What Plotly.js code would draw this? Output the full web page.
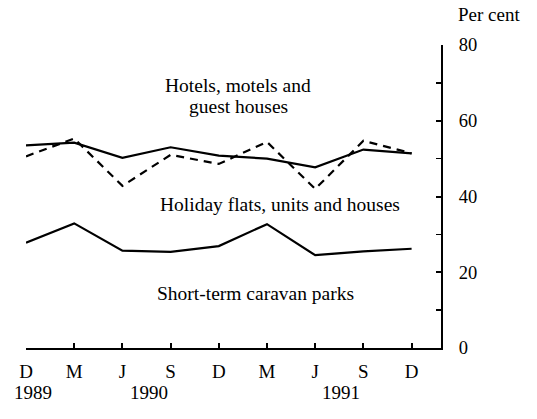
<!DOCTYPE html>
<html>
<head>
<meta charset="utf-8">
<script src="https://cdn.plot.ly/plotly-3.0.1.min.js"></script>
<style>
  html, body { margin: 0; padding: 0; background: #fff; }
  #plot { width: 537px; height: 419px; }
</style>
</head>
<body>
<div id="plot"></div>
<script>
// quarters, Dec 1989 to Dec 1991
const quarterLabels = ['D', 'M', 'J', 'S', 'D', 'M', 'J', 'S', 'D']
const yearLabels = ['1989', '1990', '1991']
const yearPos = [0, 2.5, 6.5]

// occupancy rates, per cent
const hotels = [53.5, 54.2, 50.2, 53.0, 50.8, 50.0, 47.7, 52.4, 51.4]
const holidayFlats = [50.6, 55.3, 42.8, 51.0, 48.6, 54.4, 42.0, 54.7, 51.4]
const caravanParks = [27.8, 32.9, 25.7, 25.4, 26.9, 32.7, 24.5, 25.5, 26.2]

const labelLines = [
  'Hotels, motels and',
  'guest houses',
  'Holiday flats, units and houses',
  'Short-term caravan parks',
]

const fontFam = '"Liberation Serif", "Times New Roman", serif'
const xIdx = quarterLabels.map((_, i) => i)

const line = (y, dash) => ({
  x: xIdx,
  y: y,
  type: 'scatter',
  mode: 'lines',
  hoverinfo: 'none',
  line: {color: '#000', width: 2.2, dash: dash},
})

const traces = [
  line(hotels, 'solid'),
  line(holidayFlats, '8px,6px'),
  line(caravanParks, 'solid'),
]

// label spots in pixels (top of plot = 45, bottom = 348)
const labelSpots = [
  [4.4, 85],
  [4.4, 106],
  [5.27, 205],
  [4.77, 293],
]

const annotations = labelLines.map((t, i) => ({
  x: labelSpots[i][0],
  xref: 'x',
  y: 1 - (labelSpots[i][1] - 45) / 303,
  yref: 'paper',
  text: t,
  showarrow: false,
  xanchor: 'center',
  yanchor: 'middle',
  font: {family: fontFam, size: 19.5, color: '#000'},
}))

yearLabels.forEach((t, i) => {
  annotations.push({
    x: yearPos[i],
    xref: 'x',
    y: 1 - (392 - 45) / 303,
    yref: 'paper',
    text: t,
    showarrow: false,
    xanchor: i === 0 ? 'left' : 'center',
    xshift: i === 0 ? -14 : 2,
    yanchor: 'middle',
    font: {family: fontFam, size: 19, color: '#000'},
  })
})

annotations.push({
  x: (456 - 26) / 415,
  xref: 'paper',
  y: 1 - (15 - 45) / 303,
  yref: 'paper',
  text: 'Per cent',
  showarrow: false,
  xanchor: 'left',
  yanchor: 'middle',
  font: {family: fontFam, size: 19, color: '#000'},
})

const layout = {
  width: 537,
  height: 419,
  margin: {l: 26, r: 96, t: 45, b: 71},
  paper_bgcolor: '#fff',
  plot_bgcolor: '#fff',
  showlegend: false,
  font: {family: fontFam, size: 19, color: '#000'},
  xaxis: {
    range: [0, 8.61],
    tickvals: xIdx,
    ticktext: quarterLabels,
    tickfont: {family: fontFam, size: 19, color: '#000'},
    ticks: 'inside',
    ticklen: 5,
    tickwidth: 2,
    tickcolor: '#000',
    showline: true,
    linecolor: '#000',
    linewidth: 2,
    showgrid: false,
    zeroline: false,
    ticklabelstandoff: 5,
  },
  yaxis: {
    side: 'right',
    range: [0, 80],
    tickvals: [0, 20, 40, 60, 80],
    tickfont: {family: fontFam, size: 18.5, color: '#000'},
    ticks: 'inside',
    ticklen: 5,
    tickwidth: 2,
    tickcolor: '#000',
    minor: {dtick: 10, ticks: 'inside', ticklen: 5, tickcolor: '#000', tickwidth: 1.5},
    showline: true,
    linecolor: '#000',
    linewidth: 2,
    showgrid: false,
    zeroline: false,
    ticklabelstandoff: 12,
  },
  annotations: annotations,
}

Plotly.newPlot('plot', traces, layout, {staticPlot: true, displayModeBar: false})
</script>
</body>
</html>
